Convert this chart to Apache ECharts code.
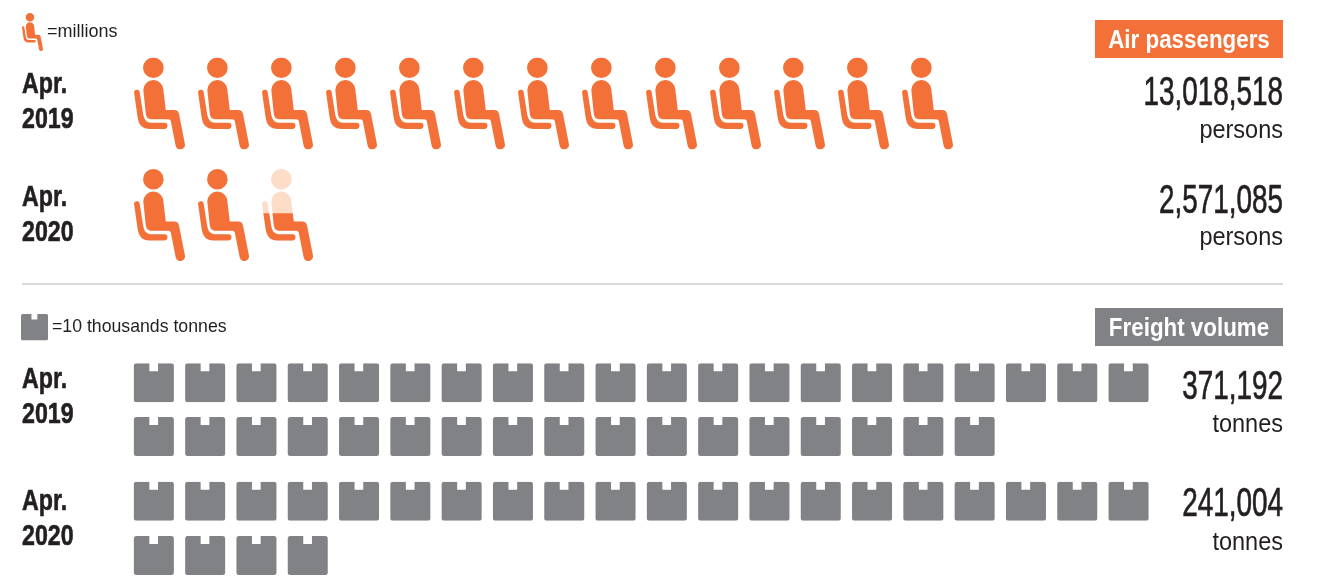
<!DOCTYPE html>
<html><head><meta charset="utf-8">
<style>html,body{margin:0;padding:0;background:#fff}#c{width:1318px;height:577px}</style>
<script src="https://cdn.jsdelivr.net/npm/echarts@6/dist/echarts.min.js"></script>
</head><body><div id="c"></div>
<script>
// Icons drawn per row: 1 icon = 1 million persons / 10 thousand tonnes
const seatLegend = '=millions';
const boxLegend = '=10 thousands tonnes';
const seatUnits2019 = 13;
const seatUnits2020 = 2.52;
const boxUnits2019 = 37;
const boxUnits2020 = 24;
const periods = ['Apr.\n2019', 'Apr.\n2020'];
const passengerValues = ['13,018,518', '2,571,085'];
const freightValues = ['371,192', '241,004'];

const seatPath = 'path://M9,10.7a10.3,10.3 0 1,0 20.6,0a10.3,10.3 0 1,0 -20.6,0Z' +
  'M9.3,33a10,10 0 0 1 20,0L31.7,53L40,53Q44.3,53 45,57.5L50.8,87A4.7,4.7 0 0 1 41.5,88.6L36.7,64Q36.3,62.3 34,62.3L17,62.3Q12.3,62.3 11.7,56.3Z' +
  'M0,35A3,3 0 0 1 5.5,34.1L9.3,58Q10.5,65.7 17,65.7L30.3,65.7A3.1,3.1 0 0 1 30.3,71.9L15,71.9Q5.2,71.9 3.7,61Z';
const boxPath = 'path://M2.5,0L15.5,0L15.5,8L24.2,8L24.2,0L37.5,0Q40,0 40,2.5L40,36.5Q40,39 37.5,39L2.5,39Q0,39 0,36.5L0,2.5Q0,0 2.5,0Z';

const ORANGE = '#F37138', PALE = '#FDDCC8', GREY = '#808285', INK = '#231F20';
const grids = [], xAxes = [], yAxes = [], series = [];

function addRow(cfg) {
  const idx = grids.length;
  const cats = [], fills = [], backs = [];
  for (let i = 0; i < cfg.cols; i++) {
    cats.push(String(i + 1));
    const f = Math.max(0, Math.min(1, cfg.units - i));
    fills.push(f > 0 ? f : null);
    backs.push(f > 0 && f < 1 ? 1 : null);
  }
  grids.push({ left: cfg.left, top: cfg.top, width: cfg.step * cfg.cols, height: cfg.h, containLabel: false });
  xAxes.push({ gridIndex: idx, type: 'category', data: cats, show: false });
  yAxes.push({ gridIndex: idx, type: 'value', min: 0, max: 1, show: false });
  const base = {
    type: 'pictorialBar', xAxisIndex: idx, yAxisIndex: idx, symbol: cfg.path, symbolSize: [cfg.w, cfg.h],
    symbolPosition: 'start', barWidth: cfg.w, barGap: '-100%', silent: true, animation: false
  };
  if (backs.some(v => v !== null)) {
    series.push(Object.assign({}, base, { name: 'partial', data: backs, itemStyle: { color: PALE }, z: 2 }));
  }
  series.push(Object.assign({}, base, { name: cfg.name, data: fills, symbolClip: true, itemStyle: { color: cfg.color }, z: 3 }));
}

const seat = { path: seatPath, name: seatLegend, color: ORANGE, left: 127.5, step: 64, w: 51, h: 92, cols: 14 };
addRow(Object.assign({}, seat, { top: 57.5, units: seatUnits2019 }));
addRow(Object.assign({}, seat, { top: 169, units: seatUnits2020 }));
const box = { path: boxPath, name: boxLegend, color: GREY, left: 128.2, step: 51.3, w: 40, h: 39, cols: 20 };
addRow(Object.assign({}, box, { top: 363.3, units: Math.min(boxUnits2019, 20) }));
addRow(Object.assign({}, box, { top: 417, units: boxUnits2019 - 20 }));
addRow(Object.assign({}, box, { top: 481.7, units: Math.min(boxUnits2020, 20) }));
addRow(Object.assign({}, box, { top: 536, units: boxUnits2020 - 20 }));

const FONT = '"Liberation Sans",Arial,sans-serif';
function txt(text, x, y, size, weight, color, align, scaleX, stroke) {
  const style = { text, fontFamily: FONT, fontSize: size, fontWeight: weight, fill: color, align: align, verticalAlign: 'top', lineHeight: 35 };
  if (stroke) { style.stroke = color; style.lineWidth = stroke; }
  return { type: 'text', x, y, scaleX: scaleX || 1, z: 10, silent: true, style };
}
const graphic = [
  { type: 'line', shape: { x1: 22, y1: 284, x2: 1283, y2: 284 }, style: { stroke: '#B3B3B3', lineWidth: 1.2 }, silent: true },
  { type: 'rect', shape: { x: 1095, y: 20, width: 188, height: 38 }, style: { fill: ORANGE }, silent: true },
  { type: 'rect', shape: { x: 1095, y: 308, width: 188, height: 38 }, style: { fill: GREY }, silent: true },
  txt('Air passengers', 1189, 23, 26, 'bold', '#fff', 'center', 0.86),
  txt('Freight volume', 1189, 311, 26, 'bold', '#fff', 'center', 0.86),
  txt(periods[0], 22, 67, 29, 'bold', INK, 'left', 0.8, 0.6),
  txt(periods[1], 22, 180, 29, 'bold', INK, 'left', 0.8, 0.6),
  txt(periods[0], 22, 362, 29, 'bold', INK, 'left', 0.8, 0.6),
  txt(periods[1], 22, 484, 29, 'bold', INK, 'left', 0.8, 0.6),
  txt(passengerValues[0], 1283, 76, 41, 'normal', INK, 'right', 0.68, 0.7),
  txt(passengerValues[1], 1283, 184, 41, 'normal', INK, 'right', 0.68, 0.7),
  txt(freightValues[0], 1283, 370, 41, 'normal', INK, 'right', 0.68, 0.7),
  txt(freightValues[1], 1283, 487, 41, 'normal', INK, 'right', 0.68, 0.7),
  txt('persons', 1283, 114, 25, 'normal', INK, 'right', 0.94),
  txt('persons', 1283, 221, 25, 'normal', INK, 'right', 0.94),
  txt('tonnes', 1283, 408, 25, 'normal', INK, 'right', 0.94),
  txt('tonnes', 1283, 526, 25, 'normal', INK, 'right', 0.94)
];

const chart = echarts.init(document.getElementById('c'), null, { renderer: 'canvas' });
chart.setOption({
  animation: false,
  backgroundColor: '#fff',
  grid: grids, xAxis: xAxes, yAxis: yAxes, series, graphic,
  legend: [
    { left: 22, top: 13, orient: 'vertical', selectedMode: false, itemWidth: 21, itemHeight: 38, itemGap: 0,
      data: [{ name: seatLegend, icon: seatPath, itemStyle: { color: ORANGE } }],
      textStyle: { fontFamily: FONT, fontSize: 18, color: INK, padding: [-2, 0, 0, -1] }, padding: 0 },
    { left: 21, top: 314, orient: 'vertical', selectedMode: false, itemWidth: 27, itemHeight: 27, itemGap: 0,
      data: [{ name: boxLegend, icon: boxPath, itemStyle: { color: GREY } }],
      textStyle: { fontFamily: FONT, fontSize: 17.7, color: INK, padding: [0, 0, 0, -1] }, padding: 0 }
  ]
});
</script></body></html>
